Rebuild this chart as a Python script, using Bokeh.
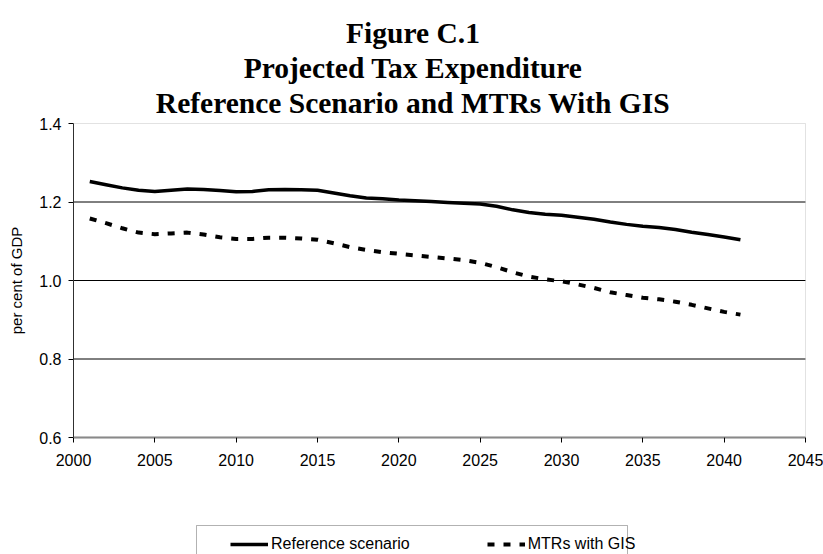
import math
from bokeh.plotting import figure
from bokeh.models import (Label, Legend, LegendItem, FixedTicker, ColumnDataSource,
                          CustomJSTickFormatter, Range1d, BoxAnnotation)
from bokeh.embed import file_html
from bokeh.resources import INLINE

years = [2001, 2002, 2003, 2004, 2005, 2006, 2007, 2008, 2009, 2010,
         2011, 2012, 2013, 2014, 2015, 2016, 2017, 2018, 2019, 2020,
         2021, 2022, 2023, 2024, 2025, 2026, 2027, 2028, 2029, 2030,
         2031, 2032, 2033, 2034, 2035, 2036, 2037, 2038, 2039, 2040, 2041]
reference_scenario = [1.252, 1.244, 1.236, 1.230, 1.227, 1.230, 1.233, 1.232, 1.229, 1.226,
                      1.227, 1.231, 1.232, 1.231, 1.230, 1.223, 1.216, 1.210, 1.208, 1.205,
                      1.203, 1.201, 1.199, 1.197, 1.195, 1.189, 1.180, 1.173, 1.169, 1.166,
                      1.161, 1.156, 1.149, 1.143, 1.138, 1.135, 1.130, 1.123, 1.117, 1.111, 1.104]
mtrs_with_gis = [1.158, 1.146, 1.133, 1.122, 1.118, 1.120, 1.122, 1.117, 1.110, 1.106,
                 1.106, 1.109, 1.109, 1.107, 1.104, 1.095, 1.085, 1.078, 1.072, 1.068,
                 1.064, 1.060, 1.056, 1.052, 1.045, 1.034, 1.021, 1.010, 1.003, 0.998,
                 0.990, 0.981, 0.970, 0.963, 0.956, 0.952, 0.946, 0.938, 0.929, 0.920, 0.913]
x_ticks = [2000, 2005, 2010, 2015, 2020, 2025, 2030, 2035, 2040, 2045]
y_ticks = [0.6, 0.8, 1.0, 1.2, 1.4]
title_lines = ["Figure C.1", "Projected Tax Expenditure", "Reference Scenario and MTRs With GIS"]
series_names = ["Reference scenario", "MTRs with GIS"]
y_label = "per cent of GDP"

# ---- layout (pixels) ----
W, H = 823, 554
plot_left, plot_right, plot_top, plot_bottom = 73, 805, 123, 437
x0, x1 = x_ticks[0], x_ticks[-1]
y0, y1 = y_ticks[0], y_ticks[-1]
px_x = (plot_right - plot_left) / (x1 - x0)
px_y = (plot_bottom - plot_top) / (y1 - y0)
x_range = Range1d(x0 - plot_left / px_x, x1 + (W - plot_right) / px_x)
y_range = Range1d(y0 - (H - plot_bottom) / px_y, y1 + plot_top / px_y)

src = ColumnDataSource(data=dict(year=years, ref=reference_scenario, mtr=mtrs_with_gis))

p = figure(width=W, height=H, x_range=x_range, y_range=y_range,
           output_backend="svg", toolbar_location=None,
           min_border_left=0, min_border_right=0, min_border_top=0, min_border_bottom=0,
           background_fill_color="white", border_fill_color="white")
p.outline_line_color = None
p.xgrid.visible = False
p.ygrid.visible = False

# horizontal gridlines inside the plot area
grid_y = y_ticks[1:-1]
p.segment(x0=[x0] * len(grid_y), x1=[x1] * len(grid_y), y0=grid_y, y1=grid_y,
          line_color="black", line_width=1)

# plot-area border
p.add_layout(BoxAnnotation(left=x0, right=x1, bottom=y0, top=y1, fill_color=None,
                           line_color="#a0a0a0", line_width=1))

r1 = p.line("year", "ref", source=src, line_color="black", line_width=3.5)
r2 = p.line("year", "mtr", source=src, line_color="black", line_width=4, line_dash="7 9")

# axes fixed at the plot-area edges
ax = p.xaxis[0]
ay = p.yaxis[0]
ax.fixed_location = y0
ay.fixed_location = x0
ax.bounds = (x0, x1)
ay.bounds = (y0, y1)
ax.ticker = FixedTicker(ticks=x_ticks)
ay.ticker = FixedTicker(ticks=y_ticks)
ay.formatter = CustomJSTickFormatter(code="return tick.toFixed(1);")
for a in (ax, ay):
    a.major_label_text_font = "Liberation Sans"
    a.major_label_text_font_size = "16px"
    a.major_label_text_color = "black"
    a.minor_tick_line_color = None
    a.major_tick_in = 0
    a.major_tick_out = 5
    a.major_tick_line_color = "black"
ax.axis_line_color = "#808080"
ax.axis_line_width = 2
ax.major_label_standoff = 11
ay.axis_line_color = "black"
ay.major_label_standoff = 7

# y-axis title
p.add_layout(Label(x=16, y=H - (plot_top + plot_bottom) / 2, x_units="screen", y_units="screen",
                   text=y_label, angle=math.pi / 2, text_align="center", text_baseline="middle",
                   text_font="Liberation Sans", text_font_size="15px", text_color="black"))

# chart title
title_baselines = [32, 67, 102]
for txt, base in zip(title_lines, title_baselines):
    p.add_layout(Label(x=412.5, y=H - base, x_units="screen", y_units="screen", text=txt,
                       text_font="Liberation Serif", text_font_size="29.5px",
                       text_font_style="bold", text_align="center", text_baseline="alphabetic",
                       text_color="black"))

# legend box and legend
p.add_layout(BoxAnnotation(left=196, right=627, top=H - 525, bottom=-20,
                           left_units="screen", right_units="screen",
                           top_units="screen", bottom_units="screen",
                           fill_color="white", fill_alpha=1.0, line_color="black", line_width=1))
legend = Legend(items=[LegendItem(label=series_names[0], renderers=[r1]),
                       LegendItem(label=series_names[1], renderers=[r2])],
                location=(230, 0), orientation="horizontal",
                label_text_font="Liberation Sans", label_text_font_size="16px",
                label_text_color="black", glyph_width=38, label_standoff=3,
                spacing=77, padding=6, border_line_color=None,
                background_fill_alpha=0.0, margin=0)
p.add_layout(legend, "center")

open("out.html", "w").write(file_html(p, INLINE))
